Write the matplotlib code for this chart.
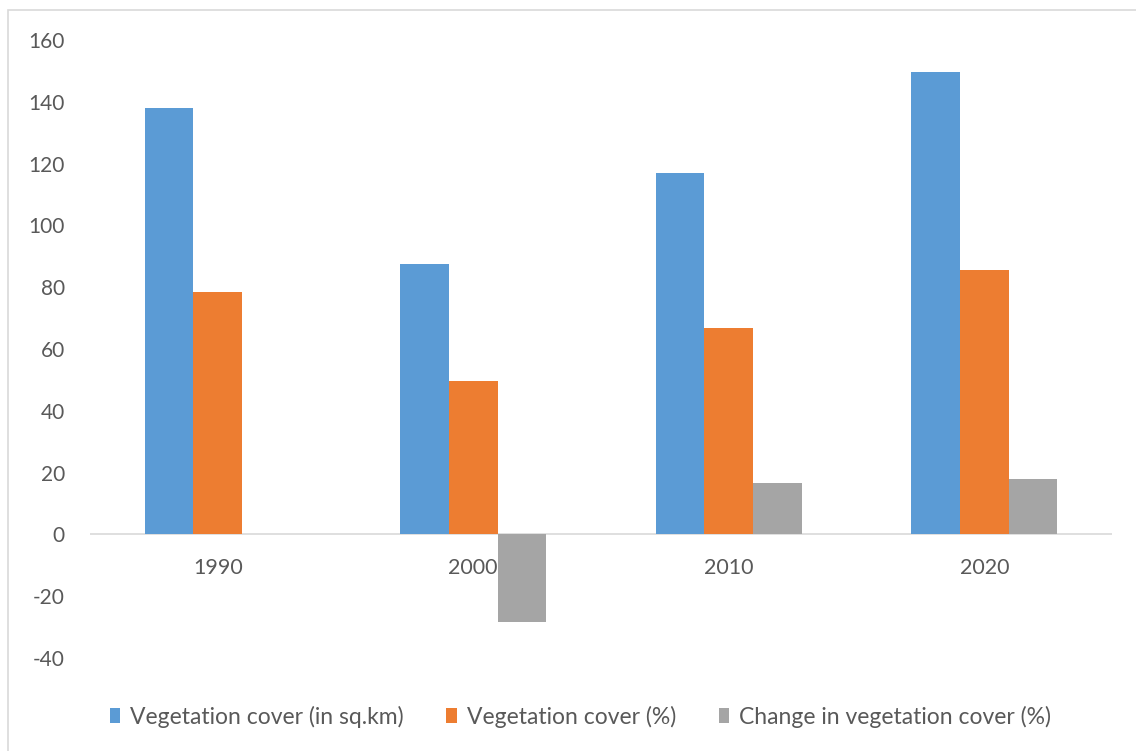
import matplotlib.pyplot as plt
from matplotlib.patches import Rectangle
import numpy as np

years = ["1990", "2000", "2010", "2020"]
cover_sqkm = [138.0, 87.5, 117.0, 149.5]
cover_pct = [78.5, 49.8, 66.8, 85.5]
change_pct = [0.0, -28.5, 16.8, 18.0]

labels = ["Vegetation cover (in sq.km)", "Vegetation cover (%)", "Change in vegetation cover (%)"]
colors = ["#5B9BD5", "#ED7D31", "#A5A5A5"]
text_color = "#595959"

plt.rcParams['font.family'] = ['Lato', 'DejaVu Sans']
plt.rcParams['axes.unicode_minus'] = False

fig = plt.figure(figsize=(11.36, 7.51), dpi=100)
ax = fig.add_axes([0.0792, 0.1238, 0.8997, 0.8229])

# outer chart border
fig.patches.append(Rectangle((8 / 1136, -0.01), 1.0, 1 - 10 / 751 + 0.01,
                             transform=fig.transFigure, fill=False,
                             edgecolor="#D9D9D9", linewidth=1.2))

x = np.arange(len(years))
w = 0.19
series = [cover_sqkm, cover_pct, change_pct]
for i, (vals, lab, col) in enumerate(zip(series, labels, colors)):
    ax.bar(x + (i - 1) * w, vals, width=w, color=col, label=lab, zorder=2)

ax.set_xlim(-0.5, 3.5)
ax.set_ylim(-40, 160)
ax.set_yticks(range(-40, 161, 20))
ax.tick_params(axis='y', length=0, labelsize=15, colors=text_color, pad=18)
ax.set_xticks([])
for s in ax.spines.values():
    s.set_visible(False)
ax.axhline(0, color="#D9D9D9", linewidth=1.2, zorder=1)

# year labels sit behind the bars
for xi, yr in zip(x, years):
    ax.annotate(yr, (xi, 0), xytext=(0, -24), textcoords='offset points',
                ha='center', va='center', fontsize=15.5, color=text_color,
                zorder=1, annotation_clip=False)

leg = fig.legend(loc='center', bbox_to_anchor=(0.511, 0.046), ncol=3, frameon=False,
                 fontsize=16.5, handlelength=0.45, handleheight=0.6,
                 handletextpad=0.45, columnspacing=1.85)
for t in leg.get_texts():
    t.set_color(text_color)

fig.savefig("out.png", dpi=100)
